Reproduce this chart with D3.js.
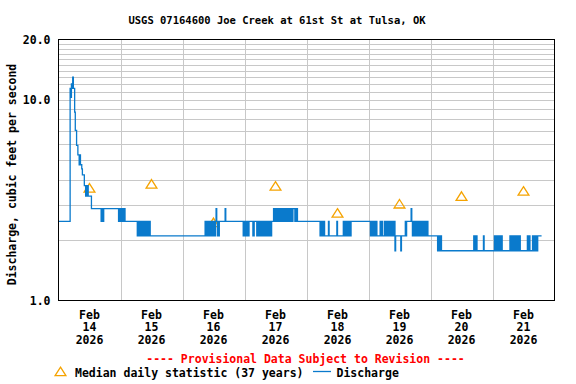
<!DOCTYPE html>
<html><head><meta charset="utf-8">
<script src="https://cdn.jsdelivr.net/npm/d3@7"></script>
<style>
body{margin:0;background:#fff}
svg{display:block}
text{font-family:"DejaVu Sans Mono","Liberation Mono",monospace;font-weight:bold}
</style>
</head><body>
<svg id="chart" width="576" height="384"></svg>
<script>
// ---------------- data ----------------
const titleText = "USGS 07164600 Joe Creek at 61st St at Tulsa, OK";
const yAxisTitle = "Discharge, cubic feet per second";
const yTickValues = [1, 10, 20];
const yGridValues = [2, 3, 4, 5, 6, 7, 8, 9, 10, 11, 12, 13, 14, 15, 16, 17, 18, 19];
const dayLabels = ["14", "15", "16", "17", "18", "19", "20", "21"];
const monthLabel = "Feb";
const yearLabel = "2026";
const startDate = Date.UTC(2026, 1, 14);
const endDate = Date.UTC(2026, 1, 22);
const medianValues = [3.64, 3.81, 2.45, 3.72, 2.73, 3.03, 3.31, 3.51];
// discharge levels (cfs) coded by letter
const levelValues = {a:1.77, b:2.10, c:2.48, d:2.87, e:3.31, f:3.74, g:4.23, h:4.53, i:4.75,
  j:5.32, k:5.93, l:7.04, m:8.68, n:10.3, o:11.4, p:12.0, q:13.0};
// runs of 15-minute readings: [hours after Feb 14 00:00, readings]
const dischargeRuns = [
  [0, "c"],
  [4.5, "onpoqoomllkkjjijiihgggffefefe"],
  [12.75, "d"],
  [16.5, "ccdcd"],
  [23.25, "cdcdcdcdcdcc"],
  [30.5, "bcbcbcbbcbcbbcbcbcbcbb"],
  [56.75, "cbcbcbcbcbcbcbcbcdcbcbc"],
  [64.5, "dc"],
  [71.5, "bcbcbcbcbc"],
  [75.25, "bbc"],
  [76.75, "bcbcbbcbcbcbcbbcbcbcbcbc"],
  [83.25, "dcdcdcdcdcdcddcdcdcdcddcdcdcdcdddcdcdcc"],
  [101.25, "bcbcbbcbbbbbbcbb"],
  [107.75, "cbbbbbbbbbcbcbcbcbcbcbcc"],
  [120.75, "bcbcbcbcbcbb"],
  [124.5, "cbbcbbbcbcbbcbbcbcbbcbcab"],
  [132.5, "ab"],
  [134.25, "cbcccccccdcbcbcbcbcbcbcbcbcbcbcbcbcb"],
  [146.75, "abababaa"],
  [160.75, "bababa"],
  [164.5, "ba"],
  [168.75, "bababaabababa"],
  [174.75, "babababbababababa"],
  [181.5, "babba"],
  [183.5, "bababababb"]
];
const dataEndHour = 187;

// ---------------- layout ----------------
const svg = d3.select("#chart");
const L = 58.5, R = 554.5, T = 39.5, B = 300.5;
const x = d3.scaleUtc().domain([new Date(startDate), new Date(endDate)]).range([L, R]);
const y = d3.scaleLog().domain([1, 20]).range([B, T]);
const hourDate = h => new Date(startDate + h * 3600e3);

const points = [];
dischargeRuns.forEach(([h, s]) => {
  for (let i = 0; i < s.length; i++) points.push({t: hourDate(h + i * 0.25), v: levelValues[s[i]]});
});
points.push({t: hourDate(dataEndHour), v: points[points.length - 1].v});

// grid
const grid = svg.append("g").attr("stroke", "#c8c8c8").attr("stroke-width", 1).attr("shape-rendering", "crispEdges");
grid.selectAll("line.h").data(yGridValues).join("line")
  .attr("x1", L).attr("x2", R).attr("y1", d => Math.round(y(d)) + 0.5).attr("y2", d => Math.round(y(d)) + 0.5);
const dayTicks = d3.utcDay.range(new Date(startDate), new Date(endDate)).slice(1);
grid.selectAll("line.v").data(dayTicks).join("line")
  .attr("y1", T).attr("y2", B).attr("x1", d => Math.round(x(d)) + 0.5).attr("x2", d => Math.round(x(d)) + 0.5);

// medians
const triPath = "M0,-4.4L5.4,4.1L-5.4,4.1Z";
const noonDates = dayLabels.map((d, i) => new Date(startDate + (i + 0.5) * 86400e3));
svg.append("g").selectAll("path").data(medianValues).join("path")
  .attr("d", triPath)
  .attr("transform", (d, i) => `translate(${x(noonDates[i])},${y(d)})`)
  .attr("fill", "none").attr("stroke", "#f5a300").attr("stroke-width", 1.3);

// discharge line
const line = d3.line().x(d => x(d.t)).y(d => y(d.v)).curve(d3.curveStepAfter);
svg.append("path").datum(points).attr("d", line)
  .attr("fill", "none").attr("stroke", "#0a7acc").attr("stroke-width", 1.3);

// frame
svg.append("rect").attr("x", L).attr("y", T).attr("width", R - L).attr("height", B - T)
  .attr("fill", "none").attr("stroke", "#000").attr("stroke-width", 1).attr("shape-rendering", "crispEdges");

// y axis labels
const yAxis = d3.axisLeft(y).tickValues(yTickValues).tickFormat(d3.format(".1f")).tickSize(0).tickPadding(8);
const ya = svg.append("g").attr("transform", `translate(${L},0)`).call(yAxis);
ya.select(".domain").remove();
ya.selectAll("text").attr("font-size", "11.5px").attr("font-family", "DejaVu Sans Mono").attr("fill", "#000");

// x axis labels
const xl = svg.append("g").attr("font-size", "11.5px").attr("text-anchor", "middle").attr("fill", "#000");
noonDates.forEach((d, i) => {
  const g = xl.append("text").attr("x", x(d));
  g.append("tspan").attr("x", x(d)).attr("y", 318.5).text(monthLabel);
  g.append("tspan").attr("x", x(d)).attr("y", 331).text(dayLabels[i]);
  g.append("tspan").attr("x", x(d)).attr("y", 344).text(yearLabel);
});

// title
svg.append("text").attr("x", 277).attr("y", 24).attr("text-anchor", "middle")
  .attr("font-size", "10.5px").text(titleText);

// y title
svg.append("text").attr("transform", "translate(16,174.5) rotate(-90)").attr("text-anchor", "middle")
  .attr("font-size", "11.5px").text(yAxisTitle);

// provisional
svg.append("text").attr("x", 305.5).attr("y", 362.5).attr("text-anchor", "middle")
  .attr("font-size", "11.5px").attr("fill", "#ff0000").text("---- Provisional Data Subject to Revision ----");

// legend
svg.append("path").attr("d", triPath).attr("transform", "translate(60.5,371.5)")
  .attr("fill", "none").attr("stroke", "#f5a300").attr("stroke-width", 1.3);
svg.append("text").attr("x", 75).attr("y", 376.5).attr("font-size", "11.5px").text("Median daily statistic (37 years)");
svg.append("line").attr("x1", 313).attr("x2", 331).attr("y1", 371.5).attr("y2", 371.5)
  .attr("stroke", "#0a7acc").attr("stroke-width", 1.3);
svg.append("text").attr("x", 336.5).attr("y", 376.5).attr("font-size", "11.5px").text("Discharge");
</script>
</body></html>
